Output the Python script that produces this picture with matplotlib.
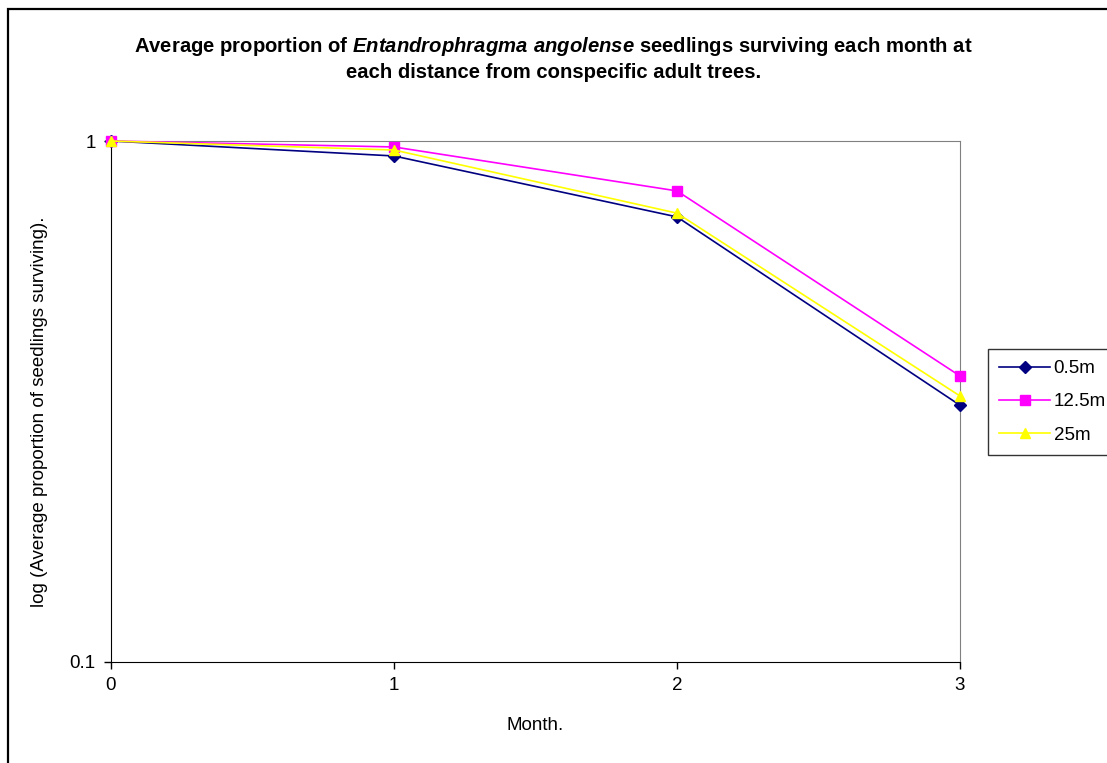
import matplotlib
matplotlib.use("Agg")
from matplotlib import pyplot as plt
from matplotlib.patches import Rectangle
from matplotlib.ticker import FixedLocator, NullLocator

plt.rcParams['font.family'] = ['Liberation Sans', 'DejaVu Sans']
plt.rcParams['mathtext.fontset'] = 'custom'
plt.rcParams['mathtext.bfit'] = 'Liberation Sans:italic:bold'
plt.rcParams['mathtext.rm'] = 'Liberation Sans'
plt.rcParams['mathtext.bf'] = 'Liberation Sans:bold'

months = [0, 1, 2, 3]
d05 = [1.0, 0.936, 0.715, 0.311]
d125 = [1.0, 0.974, 0.802, 0.354]
d25 = [1.0, 0.961, 0.727, 0.324]
series_names = ['0.5m', '12.5m', '25m']

fig = plt.figure(figsize=(11.07, 7.63), dpi=100)
# outer chart border (left and top visible)
fig.patches.append(Rectangle((8/1107, -0.05), 1.2, 1 - 9/763 + 0.05, transform=fig.transFigure,
                             fill=False, edgecolor='black', linewidth=1.6))

ax = fig.add_axes([111/1107, 1 - 662/763, (960-111)/1107, (662-141)/763])

ax.plot(months, d05, color='#000080', marker='D', markersize=6, linewidth=1.2,
        label=series_names[0], clip_on=False, zorder=3)
ax.plot(months, d125, color='#FF00FF', marker='s', markersize=6.5, linewidth=1.2,
        label=series_names[1], clip_on=False, zorder=4)
ax.plot(months, d25, color='#FFFF00', marker='^', markersize=7.5, linewidth=1.2,
        label=series_names[2], clip_on=False, zorder=5)

ax.set_yscale('log')
ax.set_ylim(0.1, 1)
ax.set_xlim(0, 3)
ax.yaxis.set_major_locator(FixedLocator([0.1, 1]))
ax.yaxis.set_minor_locator(NullLocator())
ax.set_yticklabels(['0.1', '1'])
ax.set_xticks(months)
ax.tick_params(axis='both', labelsize=13.5, length=5, width=1, direction='out', pad=6)

ax.spines['top'].set_color('#808080')
ax.spines['right'].set_color('#808080')
ax.spines['left'].set_color('black')
ax.spines['bottom'].set_color('black')

ax.set_xlabel('Month.', fontsize=13.5, labelpad=16)
ax.set_ylabel('log (Average proportion of seedlings surviving).', fontsize=13.5)
ax.yaxis.set_label_coords(-(111 - 48) / 849, 0.48)

fig.text(0.5, 1 - 46/763, 'Average proportion of $\\mathbfit{Entandrophragma\\ angolense}$ seedlings surviving each month at',
         ha='center', va='center', fontsize=14.6, fontweight='bold')
fig.text(0.5, 1 - 72/763, 'each distance from conspecific adult trees.',
         ha='center', va='center', fontsize=14.6, fontweight='bold')

leg = fig.legend(loc='upper left', bbox_to_anchor=(988/1107, 1 - 349/763), fontsize=13.5,
                 frameon=True, fancybox=False, edgecolor='black', handlelength=2.7,
                 borderpad=0.6, labelspacing=0.85, handletextpad=0.2, borderaxespad=0)
leg.get_frame().set_linewidth(1)

plt.savefig('out.png', dpi=100)
